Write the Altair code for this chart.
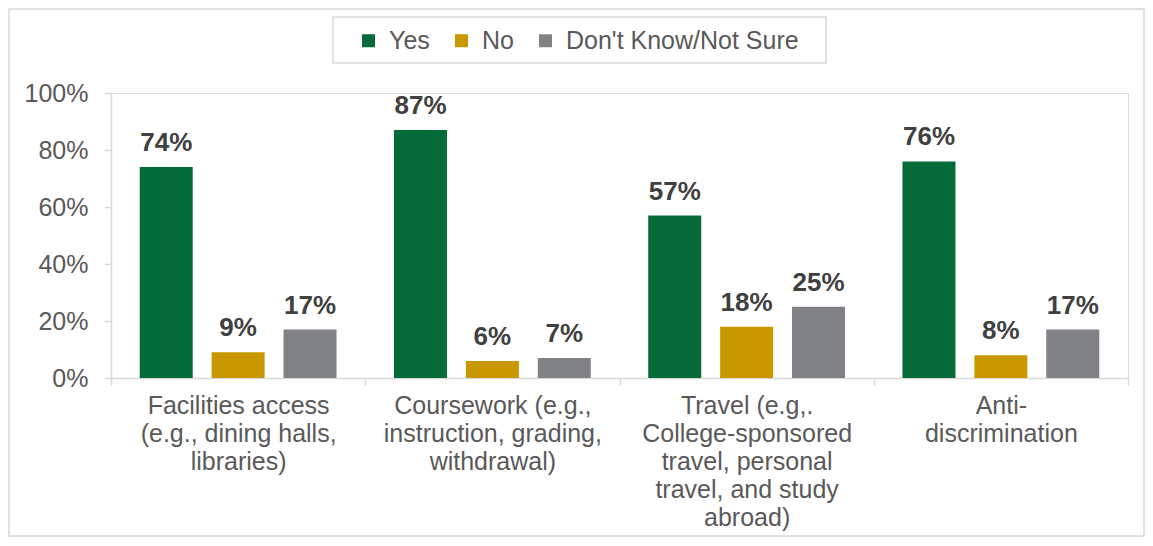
import altair as alt
import pandas as pd

categories = [
    "Facilities access|(e.g., dining halls,|libraries)",
    "Coursework (e.g.,|instruction, grading,|withdrawal)",
    "Travel (e.g,.|College-sponsored|travel, personal|travel, and study|abroad)",
    "Anti-|discrimination",
]
series = ["Yes", "No", "Don't Know/Not Sure"]
yes_vals = [0.74, 0.87, 0.57, 0.76]
no_vals = [0.09, 0.06, 0.18, 0.08]
dk_vals = [0.17, 0.07, 0.25, 0.17]
colors = ["#046A38", "#C99700", "#808285"]

rows = []
for i, c in enumerate(categories):
    for s, vals in zip(series, [yes_vals, no_vals, dk_vals]):
        rows.append({"category": c, "series": s, "value": vals[i]})
df = pd.DataFrame(rows)

FONT = "Liberation Sans"
FS = 25
W, H = 1017, 285

x_enc = alt.X(
    "category:N",
    sort=categories,
    scale=alt.Scale(paddingInner=0, paddingOuter=0),
    axis=alt.Axis(
        title=None,
        labelAngle=0,
        labelExpr="split(datum.label, '|')",
        labelFontSize=FS,
        labelFont=FONT,
        labelColor="#595959",
        labelLineHeight=28,
        labelPadding=8,
        labelBaseline="top",
        labelLimit=400,
        tickBand="extent",
        tickSize=7,
        tickColor="#d9d9d9",
        domainColor="#d9d9d9",
        domainWidth=1.5,
        tickWidth=1.5,
        grid=False,
    ),
)
xoff = alt.XOffset(
    "series:N",
    sort=series,
    scale=alt.Scale(paddingInner=0.264, paddingOuter=0.4),
)
y_enc = alt.Y(
    "value:Q",
    scale=alt.Scale(domain=[0, 1]),
    axis=alt.Axis(
        title=None,
        values=[0, 0.2, 0.4, 0.6, 0.8, 1.0],
        format=".0%",
        labelFontSize=FS,
        labelFont=FONT,
        labelColor="#595959",
        labelPadding=16,
        tickSize=7,
        tickColor="#d9d9d9",
        domainColor="#d9d9d9",
        domainWidth=1.5,
        tickWidth=1.5,
        grid=False,
    ),
)
color_enc = alt.Color(
    "series:N",
    sort=series,
    scale=alt.Scale(domain=series, range=colors),
    legend=alt.Legend(
        title=None,
        orient="none",
        direction="horizontal",
        legendX=245,
        legendY=-65,
        symbolType="square",
        symbolSize=169,
        symbolStrokeWidth=0,
        symbolOpacity=1,
        labelFontSize=FS,
        labelFont=FONT,
        labelColor="#595959",
        labelOffset=8,
        labelLimit=400,
        columnPadding=19,
        padding=0,
    ),
)

bars = alt.Chart(df).mark_bar(size=53).encode(
    x=x_enc, xOffset=xoff, y=y_enc, color=color_enc
)
labels = alt.Chart(df).mark_text(
    baseline="alphabetic", dy=-16, fontSize=26, fontWeight="bold", font=FONT, color="#404040"
).encode(
    x=alt.X("category:N", sort=categories),
    xOffset=alt.XOffset("series:N", sort=series),
    y="value:Q",
    text=alt.Text("value:Q", format=".0%"),
)
legend_box = alt.Chart(pd.DataFrame({"a": [0]})).mark_rect(
    fill=None, stroke="#d9d9d9", strokeWidth=1.5, clip=False
).encode(
    x=alt.value(222), x2=alt.value(715), y=alt.value(-76), y2=alt.value(-30)
)
outer_box = alt.Chart(pd.DataFrame({"a": [0]})).mark_rect(
    fill=None, stroke="#d9d9d9", strokeWidth=1.5, clip=False
).encode(
    x=alt.value(-102), x2=alt.value(1033), y=alt.value(-84), y2=alt.value(443)
)

chart = alt.layer(outer_box, bars, labels, legend_box).properties(
    width=W, height=H,
    autosize=alt.AutoSizeParams(type="none"),
    padding={"left": 103, "right": 17, "top": 85, "bottom": 160},
).configure_view(stroke=None).configure(background="white")

chart.save("out.html", embed_options={"renderer": "svg", "actions": False})
